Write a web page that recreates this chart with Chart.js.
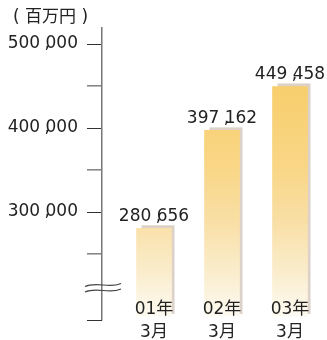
<!DOCTYPE html>
<html>
<head>
<meta charset="utf-8">
<script src="https://cdn.jsdelivr.net/npm/chart.js@4"></script>
<style>
  body { margin: 0; background: #fff; }
</style>
</head>
<body>
<canvas id="salesChart" width="327" height="340"></canvas>
<script>
// fiscal years (year / month shown on two lines)
const years = ['01年', '02年', '03年'];
const months = ['3月', '3月', '3月'];
const values = [280656, 397162, 449458];
const valueLabels = ['280 ,656', '397 ,162', '449 ,458'];

// axis: broken below 250 000
const yTicks = [250000, 300000, 350000, 400000, 450000, 500000];
const yTickLabels = { 300000: '300 ,000', 400000: '400 ,000', 500000: '500 ,000' };
const unitLabel = '( 百万円 )';
const Y_MIN = 171429;
const Y_MAX = 519048;
const BAR_BASE = 176200;

const FONT = '17px "DejaVu Sans", "Noto Sans CJK JP", sans-serif';

// numbers are set with the comma tucked against the last group
function drawGrouped(ctx, label, x, y, align) {
    const [head, tail] = label.split(',');
    const wHead = ctx.measureText(head).width;
    const wTail = ctx.measureText(tail).width;
    const start = align === 'right' ? x - wHead - wTail : x - (wHead + wTail) / 2;
    ctx.textAlign = 'left';
    ctx.fillText(head, start, y);
    ctx.fillText(tail, start + wHead, y);
    ctx.fillText(',', start + wHead - 1, y);
}

// gradient from yellow at the top to cream at the bottom
function barFill(ctx) {
    const chart = ctx.chart;
    if (!chart.chartArea) return '#f8ce6b';
    const y = chart.scales.y;
    const g = chart.ctx.createLinearGradient(0, y.getPixelForValue(455000), 0, y.getPixelForValue(BAR_BASE));
    g.addColorStop(0, '#f8ce6b');
    g.addColorStop(0.35, '#f9d685');
    g.addColorStop(0.6, '#f9dfa6');
    g.addColorStop(0.8, '#faecca');
    g.addColorStop(1, '#fdfaf1');
    return g;
}

// shadow drawn behind each bar
const barShadow = {
    id: 'barShadow',
    beforeDatasetsDraw(chart) {
        const ctx = chart.ctx;
        ctx.save();
        ctx.fillStyle = '#dcd2c9';
        chart.getDatasetMeta(0).data.forEach(bar => {
            const left = bar.x - bar.width / 2 + 5;
            const right = bar.x + bar.width / 2 + 3;
            ctx.fillRect(left, bar.y - 3, right - left, bar.base - bar.y + 1);
        });
        ctx.restore();
    }
};

// tick labels, value labels, category labels and the axis break mark
const annotations = {
    id: 'annotations',
    afterDatasetsDraw(chart) {
        const ctx = chart.ctx;
        const area = chart.chartArea;
        const yScale = chart.scales.y;
        ctx.save();
        ctx.fillStyle = '#222';
        ctx.textBaseline = 'middle';
        ctx.font = FONT;

        ctx.textAlign = 'left';
        ctx.fillText(unitLabel, 13, 18);

        Object.keys(yTickLabels).forEach(v => {
            drawGrouped(ctx, yTickLabels[v], area.left - 24, yScale.getPixelForValue(+v), 'right');
        });

        chart.getDatasetMeta(0).data.forEach((bar, i) => {
            drawGrouped(ctx, valueLabels[i], bar.x, bar.y - 12, 'center');
            ctx.textAlign = 'center';
            ctx.fillText(years[i], bar.x, bar.base - 6);
            ctx.fillText(months[i], bar.x, bar.base + 17);
        });

        // double wave across the axis
        const yb = area.bottom - 35;
        ctx.strokeStyle = '#444';
        ctx.lineWidth = 1.2;
        [0, 5.5].forEach(dy => {
            ctx.beginPath();
            ctx.moveTo(area.left - 17, yb + dy + 1.5);
            ctx.bezierCurveTo(area.left - 5, yb + dy - 4, area.left + 7, yb + dy + 4, area.left + 19, yb + dy - 1.5);
            ctx.stroke();
        });

        // closing tick at the foot of the axis
        ctx.strokeStyle = '#333';
        ctx.lineWidth = 1;
        ctx.beginPath();
        ctx.moveTo(area.left - 15, area.bottom + 0.5);
        ctx.lineTo(area.left, area.bottom + 0.5);
        ctx.stroke();
        ctx.restore();
    }
};

new Chart(document.getElementById('salesChart'), {
    type: 'bar',
    data: {
        datasets: [{
            data: values.map((v, i) => ({ x: i + 1, y: v })),
            base: BAR_BASE,
            barThickness: 35,
            backgroundColor: barFill,
            borderWidth: 0
        }]
    },
    options: {
        responsive: false,
        devicePixelRatio: 1,
        animation: false,
        layout: { padding: { top: 28, right: 3, bottom: 20, left: 0 } },
        plugins: { legend: { display: false }, tooltip: { enabled: false } },
        scales: {
            x: { type: 'linear', min: 0.235, max: 3.5, offset: false, display: false },
            y: {
                min: Y_MIN,
                max: Y_MAX,
                afterBuildTicks: scale => { scale.ticks = yTicks.map(v => ({ value: v })); },
                afterFit: scale => { scale.width = 102; },
                ticks: { padding: 9, callback: () => '' },
                grid: {
                    drawOnChartArea: false,
                    tickLength: 15,
                    color: c => (c.tick && yTickLabels[c.tick.value]) ? '#333' : '#888',
                    lineWidth: c => (c.tick && yTickLabels[c.tick.value]) ? 1 : 1.6
                },
                border: { color: '#777', width: 1.5 }
            }
        }
    },
    plugins: [barShadow, annotations]
});
</script>
</body>
</html>
